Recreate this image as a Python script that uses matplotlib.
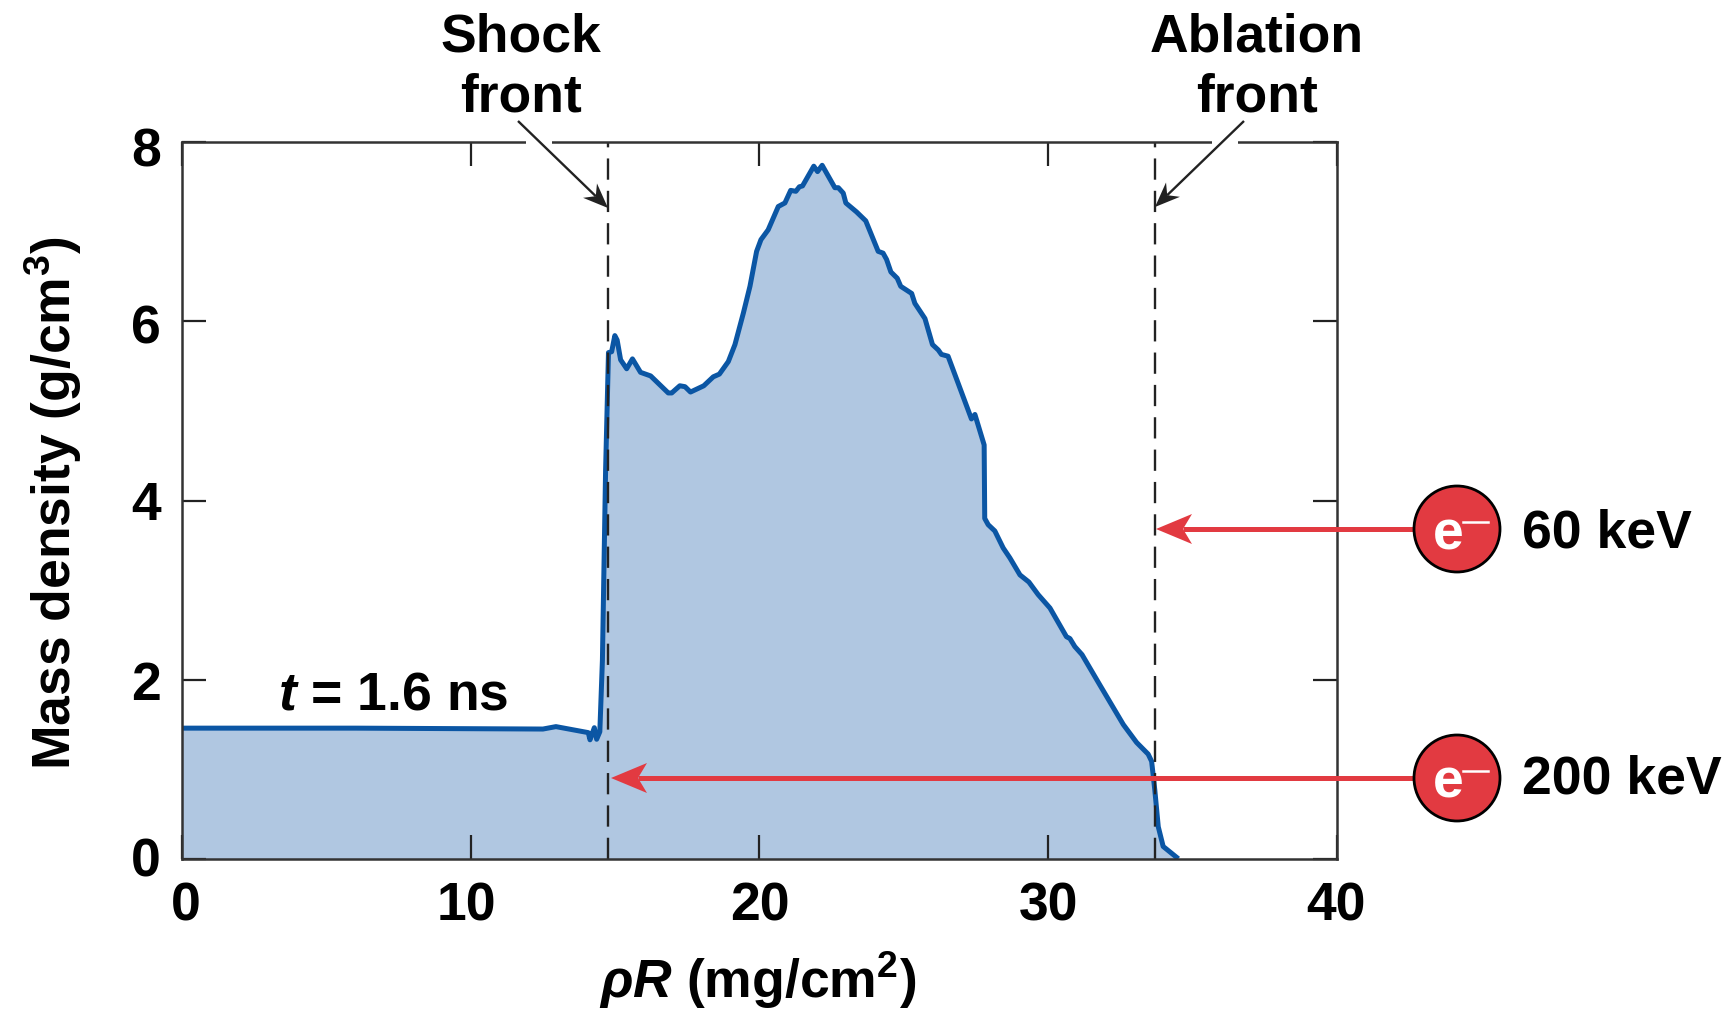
import matplotlib
matplotlib.use("Agg")
import matplotlib.pyplot as plt
from matplotlib.transforms import ScaledTranslation
import numpy as np
from matplotlib.patches import Circle, Polygon, Rectangle

plt.rcParams['font.family'] = ['Liberation Sans', 'DejaVu Sans']
plt.rcParams['font.weight'] = 'bold'
plt.rcParams['mathtext.fontset'] = 'custom'
plt.rcParams['mathtext.rm'] = 'Liberation Sans:bold'
plt.rcParams['mathtext.it'] = 'Liberation Sans:italic:bold'
plt.rcParams['mathtext.bf'] = 'Liberation Sans:bold'
plt.rcParams['mathtext.bfit'] = 'Liberation Sans:italic:bold'
plt.rcParams['mathtext.default'] = 'regular'

# values
rho_r = [0, 6, 12.5, 12.95, 14.07, 14.13, 14.28, 14.36, 14.47, 14.56, 14.67, 14.77,
         14.88, 14.99, 15.07, 15.19, 15.40, 15.60, 15.88, 16.23, 16.84, 16.96, 17.24,
         17.42, 17.61, 18.07, 18.40, 18.61, 18.92, 19.15, 19.44, 19.67, 19.90, 20.05,
         20.30, 20.65, 20.88, 21.08, 21.26, 21.38, 21.49, 21.88, 22.01, 22.17, 22.61,
         22.73, 22.90, 22.99, 23.36, 23.68, 24.11, 24.28, 24.40, 24.55, 24.77, 24.89,
         25.27, 25.38, 25.73, 25.99, 26.19, 26.30, 26.53, 27.34, 27.46, 27.78, 27.80,
         27.92, 28.15, 28.44, 28.67, 29.02, 29.33, 29.65, 30.06, 30.63, 30.75, 30.92,
         31.17, 31.79, 32.60, 33.06, 33.46, 33.58, 33.69, 33.81, 33.98, 34.44]
density = [1.46, 1.46, 1.45, 1.477, 1.41, 1.33, 1.465, 1.336, 1.42, 2.22, 4.34, 5.65,
           5.66, 5.84, 5.79, 5.57, 5.47, 5.58, 5.43, 5.39, 5.20, 5.20, 5.28,
           5.27, 5.21, 5.28, 5.38, 5.41, 5.55, 5.74, 6.09, 6.39, 6.78, 6.91,
           7.02, 7.28, 7.32, 7.46, 7.45, 7.50, 7.51, 7.73, 7.67, 7.74, 7.49,
           7.49, 7.43, 7.32, 7.22, 7.12, 6.78, 6.76, 6.69, 6.55, 6.48, 6.39,
           6.31, 6.20, 6.03, 5.74, 5.68, 5.63, 5.61, 4.91, 4.96, 4.62, 3.80,
           3.73, 3.66, 3.47, 3.36, 3.17, 3.09, 2.95, 2.80, 2.48, 2.46, 2.37,
           2.28, 1.94, 1.50, 1.30, 1.17, 1.09, 0.77, 0.36, 0.14, 0.02]
fronts = [14.77, 33.69]
x_ticks = [0, 10, 20, 30, 40]
y_ticks = [0, 2, 4, 6, 8]

W, H = 1727, 1011
FS = 38.5
fig = plt.figure(figsize=(W/100, H/100), dpi=100)
L, R, T, B = 182, 1337, 142, 859
ax = fig.add_axes([L/W, 1-B/H, (R-L)/W, (B-T)/H])

ax.fill_between(rho_r, density, 0, color='#B0C7E1', lw=0)
ax.plot(rho_r, density, color='#0B56A4', lw=3.6, solid_joinstyle='round')
for f in fronts:
    ax.plot([f, f], [0, 8], color='#222222', lw=1.7, dashes=(9, 4.7))

ax.set_xlim(0, 40)
ax.set_ylim(0, 8)
ax.set_xticks(x_ticks)
ax.set_yticks(y_ticks)
ax.tick_params(direction='in', length=17, width=1.6, color='#222222', top=True, right=True,
               labelsize=FS)
ax.tick_params(axis='x', pad=16.5)
ax.tick_params(axis='y', pad=15)
for s in ax.spines.values():
    s.set_linewidth(1.8)
    s.set_color('#333333')

# tick labels sit slightly off their ticks in the original
for lab, dx in zip(ax.get_xticklabels(), [4, -4, 0, 0, -1]):
    lab.set_transform(lab.get_transform()+ScaledTranslation(dx/100, 0, fig.dpi_scale_trans))
for lab, dy in zip(ax.get_yticklabels(), [-2, 1, 0, 3, 5]):
    lab.set_transform(lab.get_transform()+ScaledTranslation(0, -dy/100, fig.dpi_scale_trans))

# overlay in picture pixels for the annotations
ov = fig.add_axes([0, 0, 1, 1])
ov.set_xlim(0, W)
ov.set_ylim(H, 0)
ov.axis('off')

def arrow(x0, y0, x1, y1, color, lw, hl, hw, notch, z=5):
    d = np.array([x1-x0, y1-y0], dtype=float)
    d = d/np.hypot(*d)
    n = np.array([-d[1], d[0]])
    tip = np.array([x1, y1], dtype=float)
    a = tip-d*hl+n*hw
    b = tip-d*hl-n*hw
    c = tip-d*notch
    ov.plot([x0, c[0]], [y0, c[1]], color=color, lw=lw, solid_capstyle='butt', zorder=z)
    ov.add_patch(Polygon([tip, a, c, b], closed=True, fc=color, ec='none', zorder=z))

# gaps in top spine where leaders cross
ov.add_patch(Rectangle((526, 139), 26, 6, fc='white', ec='none', zorder=2))
ov.add_patch(Rectangle((1212, 139), 26, 6, fc='white', ec='none', zorder=2))
arrow(518, 121, 608, 208, '#222222', 1.7, 25, 10, 17)
arrow(1244, 121, 1155, 207, '#222222', 1.7, 25, 10, 17)

for cy, tipx, label, ly in [(529, 1156, '60 keV', 533), (778, 611, '200 keV', 780)]:
    arrow(1415, cy, tipx, cy, '#E23A41', 3.6, 36, 15, 27)
    ov.add_patch(Circle((1457, cy), 43, fc='#E23A41', ec='black', lw=2, zorder=6))
    ov.text(1448, cy+6, 'e', color='white', fontsize=40, ha='center', va='center', zorder=7)
    ov.plot([1463, 1488], [cy-7, cy-7], color='white', lw=1.8, zorder=7)
    ov.text(1522, ly, label, color='black', fontsize=FS, ha='left', va='center', zorder=7)

ov.text(521, 38, 'Shock', fontsize=FS, ha='center', va='center')
ov.text(521, 98, 'front', fontsize=FS, ha='center', va='center')
ov.text(1257, 38, 'Ablation', fontsize=FS, ha='center', va='center')
ov.text(1257, 98, 'front', fontsize=FS, ha='center', va='center')
ov.text(393, 695, r'$\mathbfit{t}$ = 1.6 ns', fontsize=FS, ha='center', va='center')
ov.text(53, 503, 'Mass density (g/cm$^{3}$)', fontsize=FS, rotation=90, ha='center', va='center')
ov.text(758, 980, r'$\mathbfit{\rho R}$ (mg/cm$^{2}$)', fontsize=FS, ha='center', va='center')

fig.savefig('out.png', dpi=100)
